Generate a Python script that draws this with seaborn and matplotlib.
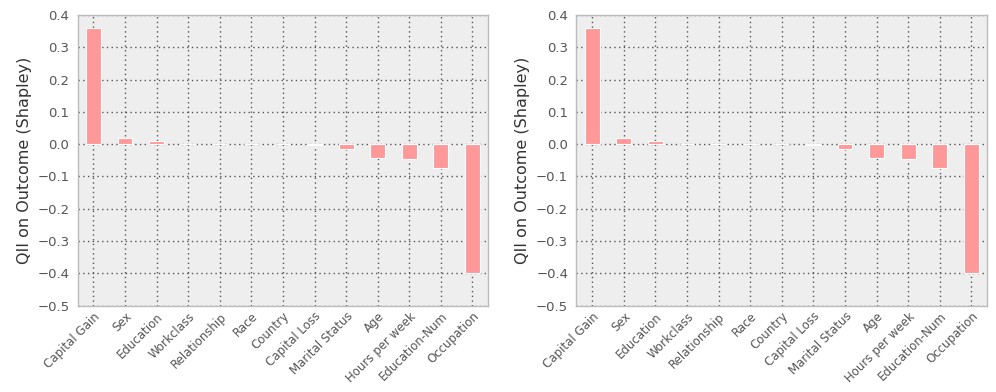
import matplotlib
matplotlib.use("Agg")
import matplotlib.pyplot as plt
import seaborn as sns
import pandas as pd

# features, ordered as in the figure
features = ["Capital Gain", "Sex", "Education", "Workclass", "Relationship", "Race",
            "Country", "Capital Loss", "Marital Status", "Age", "Hours per week",
            "Education-Num", "Occupation"]

# QII (Shapley) values
qii_left = [0.360, 0.019, 0.010, 0.001, 0.0005, 0.0003, 0.0003, -0.002,
            -0.014, -0.042, -0.047, -0.075, -0.400]
qii_right = [0.360, 0.019, 0.010, 0.001, 0.0005, 0.0003, 0.0003, -0.002,
             -0.014, -0.042, -0.047, -0.075, -0.400]

yticks = [-0.5, -0.4, -0.3, -0.2, -0.1, 0.0, 0.1, 0.2, 0.3, 0.4]

sns.set_style("whitegrid")
plt.rcParams["font.family"] = ["DejaVu Sans"]

fig, axes = plt.subplots(1, 2, figsize=(9.96, 3.92), dpi=100)

for ax, vals in zip(axes, [qii_left, qii_right]):
    df = pd.DataFrame({"feature": features, "qii": vals})
    sns.barplot(data=df, x="feature", y="qii", color="#ff9999", saturation=1,
                width=0.47, edgecolor="white", linewidth=0.8, ax=ax, zorder=3)
    ax.set_facecolor("#eeeeee")
    ax.set_xlim(-0.5, len(features) - 0.5)
    ax.set_ylim(-0.5, 0.4)
    ax.set_yticks(yticks)
    ax.set_yticklabels([f"{t:.1f}".replace("-", "\u2212") for t in yticks])
    ax.grid(True, color="#555555", linestyle=(0, (1, 2.4)), linewidth=1.0, zorder=0)
    ax.set_axisbelow(True)
    for s in ax.spines.values():
        s.set_color("#bcbcbc")
        s.set_linewidth(1.0)
    ax.tick_params(axis="both", length=0, colors="#555555")
    ax.tick_params(axis="y", labelsize=9.5, pad=6)
    ax.tick_params(axis="x", labelsize=8.5, pad=3)
    plt.setp(ax.get_xticklabels(), rotation=45, ha="right", rotation_mode="anchor")
    ax.set_xlabel("")
    ax.set_ylabel("QII on Outcome (Shapley)", fontsize=11.5, color="#333333")

plt.subplots_adjust(left=0.078, right=0.991, top=0.962, bottom=0.22, wspace=0.215)
plt.savefig("out.png", dpi=100)
